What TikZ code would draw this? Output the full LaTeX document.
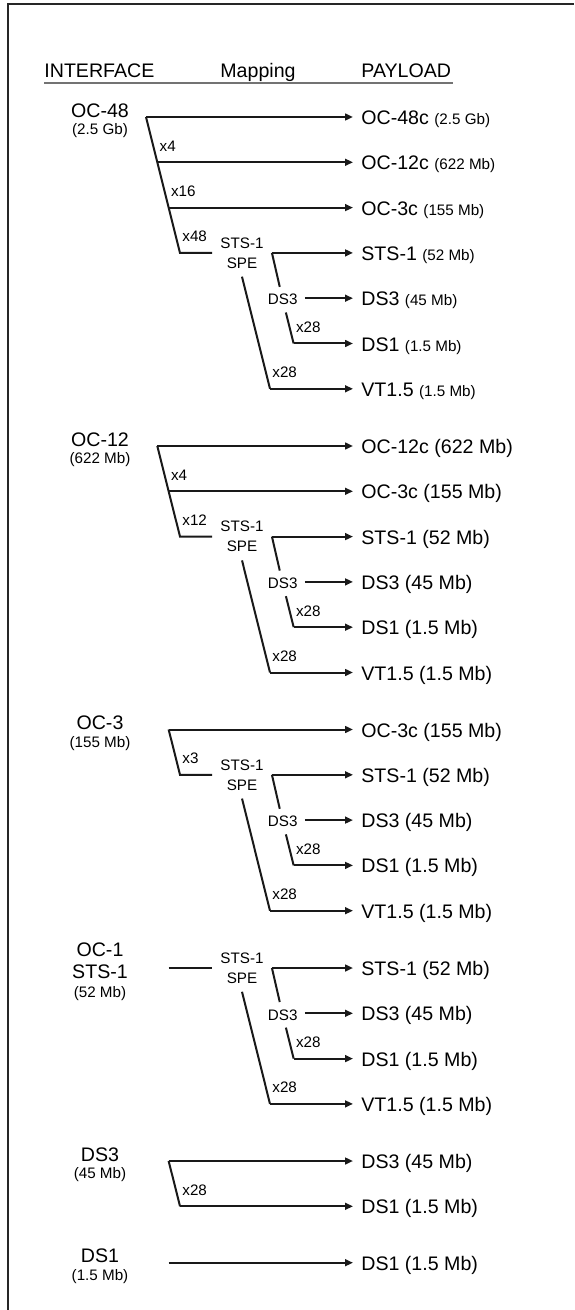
\documentclass[tikz,border=0pt]{standalone}
\usepackage{fontspec}
\setmainfont{Liberation Sans}
\usetikzlibrary{arrows.meta, positioning}
\newcommand{\smallrate}{\fontsize{7.6}{10}\selectfont}

\begin{document}
\begin{tikzpicture}[
  x=0.5pt, y=-0.5pt,
  line/.style={line width=1pt, draw=black!90},
  arrow/.style={line, -{Triangle[length=4pt, width=3.4pt]}},
  hdr/.style={anchor=base west, inner sep=0pt, font=\fontsize{9.8}{11}\selectfont},
  iface/.style={inner sep=0pt, font=\fontsize{9.8}{11}\selectfont},
  rate/.style={inner sep=0pt, font=\smallrate},
  payload/.style={anchor=west, inner xsep=4pt, inner ysep=0pt, text height=9pt, text depth=1.5pt, font=\fontsize{9.8}{11}\selectfont},
  mult/.style={anchor=south west, yshift=5.3pt, inner xsep=1pt, inner ysep=0pt, font=\smallrate},
  mapbox/.style={align=center, inner sep=4pt, font=\smallrate},
  mid/.style={inner sep=3.5pt, font=\smallrate}
]
  \useasboundingbox (0,0) rectangle (574,1310);
  \draw[line width=1.4pt, black!85] (8,1310) -- (8,4) -- (574,4);

  % Header
  \node[hdr] (hif) at (44,78) {INTERFACE};
  \node[hdr] (hmap) at (220,78) {Mapping};
  \node[hdr] (hpay) at (361,78) {PAYLOAD};
  \draw[black!55, line width=0.8pt] (44,83) -- (453,83);

  % STS-1 SPE mapping (same in four blocks)
  \foreach \n/\R/\rf in {a/252.9/\smallrate, b/536.6/\relax, c/774.8/\relax, d/968/\relax} {
    \node[mapbox] (spe\n) at (242,\R) {STS-1\\SPE};
    \node[payload] (sts\n) at (353,\R) {STS-1 {\rf (52 Mb)}};
    \node[mid] (dsm\n) at (282.7,\R+46.8) {DS3};
    \node[payload] (dsa\n) at (353,\R+45.3) {DS3 {\rf (45 Mb)}};
    \node[payload] (dso\n) at (353,\R+90.6) {DS1 {\rf (1.5 Mb)}};
    \node[payload] (vt\n) at (353,\R+135.9) {VT1.5 {\rf (1.5 Mb)}};
    \coordinate (k\n) at (spe\n.east |- sts\n.west);
    \coordinate (j\n) at (293.65,\R+90.6);
    \coordinate (v\n) at (270,\R+135.9);
    \draw[arrow] (k\n) -- (sts\n);
    \draw[line] (k\n) -- (dsm\n);
    \draw[arrow] (dsm\n.east |- dsa\n.west) -- (dsa\n);
    \draw[line] (dsm\n) -- (j\n);
    \draw[arrow] (j\n) -- (dso\n);
    \draw[line] (spe\n.south) -- (v\n);
    \draw[arrow] (v\n) -- (vt\n);
    \node[mult] (mj\n) at (j\n) {x28};
    \node[mult] (mv\n) at (v\n) {x28};
  }

  % OC-48
  \node[iface] (oc48) at (100,110.5) {OC-48};
  \node[rate] (oc48r) at (100,131) {(2.5 Gb)};
  \coordinate (a0) at (146,117);
  \coordinate (a1) at (157.3,162.3);
  \coordinate (a2) at (168.65,207.6);
  \coordinate (a3) at (180,252.9);
  \node[payload] (oc48c) at (353,117) {OC-48c {\smallrate (2.5 Gb)}};
  \node[payload] (oc12ca) at (353,162.3) {OC-12c {\smallrate (622 Mb)}};
  \node[payload] (oc3ca) at (353,207.6) {OC-3c {\smallrate (155 Mb)}};
  \draw[line] (a0) -- (a3) -- (spea.west);
  \draw[arrow] (a0) -- (oc48c);
  \draw[arrow] (a1) -- (oc12ca);
  \draw[arrow] (a2) -- (oc3ca);
  \node[mult] (ma1) at (a1) {x4};
  \node[mult] (ma2) at (a2) {x16};
  \node[mult] (ma3) at (a3) {x48};

  % OC-12
  \node[iface] (oc12) at (100,439.5) {OC-12};
  \node[rate] (oc12r) at (100,460) {(622 Mb)};
  \coordinate (b0) at (157.3,446);
  \coordinate (b1) at (168.65,491.3);
  \coordinate (b2) at (180,536.6);
  \node[payload] (oc12cb) at (353,446) {OC-12c (622 Mb)};
  \node[payload] (oc3cb) at (353,491.3) {OC-3c (155 Mb)};
  \draw[line] (b0) -- (b2) -- (speb.west);
  \draw[arrow] (b0) -- (oc12cb);
  \draw[arrow] (b1) -- (oc3cb);
  \node[mult] (mb1) at (b1) {x4};
  \node[mult] (mb2) at (b2) {x12};

  % OC-3
  \node[iface] (oc3) at (100,723) {OC-3};
  \node[rate] (oc3r) at (100,743.5) {(155 Mb)};
  \coordinate (c0) at (168.65,729.5);
  \coordinate (c1) at (180,774.8);
  \node[payload] (oc3cc) at (353,729.5) {OC-3c (155 Mb)};
  \draw[line] (c0) -- (c1) -- (spec.west);
  \draw[arrow] (c0) -- (oc3cc);
  \node[mult] (mc1) at (c1) {x3};

  % OC-1 / STS-1
  \node[iface] (oc1) at (100,950) {OC-1};
  \node[iface] (sts1) at (100,972) {STS-1};
  \node[rate] (oc1r) at (100,993.5) {(52 Mb)};
  \coordinate (d0) at (168.65,968);
  \draw[line] (d0) -- (sped.west);

  % DS3
  \node[iface] (ds3) at (100,1155) {DS3};
  \node[rate] (ds3r) at (100,1174.5) {(45 Mb)};
  \coordinate (e0) at (168.65,1161);
  \coordinate (e1) at (180,1206.3);
  \node[payload] (ds3e) at (353,1161) {DS3 (45 Mb)};
  \node[payload] (ds1e) at (353,1206.3) {DS1 (1.5 Mb)};
  \draw[line] (e0) -- (e1);
  \draw[arrow] (e0) -- (ds3e);
  \draw[arrow] (e1) -- (ds1e);
  \node[mult] (me1) at (e1) {x28};

  % DS1
  \node[iface] (ds1) at (100,1256) {DS1};
  \node[rate] (ds1r) at (100,1277) {(1.5 Mb)};
  \coordinate (f0) at (168.65,1262.7);
  \node[payload] (ds1f) at (353,1262.7) {DS1 (1.5 Mb)};
  \draw[arrow] (f0) -- (ds1f);
\end{tikzpicture}
\end{document}
